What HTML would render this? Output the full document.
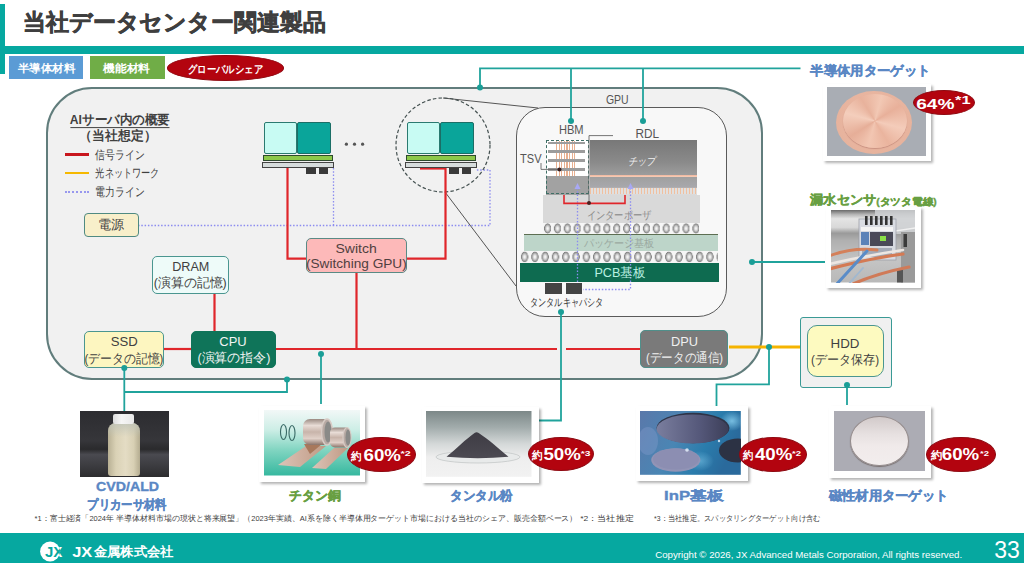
<!DOCTYPE html>
<html lang="ja"><head><meta charset="utf-8"><title>当社データセンター関連製品</title>
<style>
*{margin:0;padding:0;box-sizing:border-box}
html,body{width:1024px;height:563px;overflow:hidden;background:#fff}
body{position:relative;font-family:"Liberation Sans",sans-serif;color:#404040}
.a{position:absolute}
.box{position:absolute;border:1.5px solid #4a9690;border-radius:5px}
.frame{position:absolute;background:#fff;box-shadow:1.5px 2px 2.5px rgba(0,0,0,.3)}
.ph{position:absolute;overflow:hidden}
.pct{position:absolute;background:#b3040f;border:1px solid #8e0a12;border-radius:50%}
svg text{font-family:"Liberation Sans",sans-serif}
</style></head><body>


<!-- header -->
<div class="a" style="left:0;top:4px;width:5px;height:70px;background:#06a8a0"></div>
<div class="a" style="left:0;top:45.8px;width:1024px;height:8px;background:#06a8a0"></div>

<!-- tags -->
<div class="a" style="left:9.2px;top:56.2px;width:74.3px;height:23.1px;background:#5b9bd5"></div>
<div class="a" style="left:89.9px;top:56.2px;width:75.1px;height:23.1px;background:#70ad47"></div>
<div class="a" style="left:167px;top:55.3px;width:117px;height:25.7px;background:#b3040f;border:1px solid #8e0a12;border-radius:50%"></div>

<!-- big rect -->
<div class="a" style="left:46px;top:86.8px;width:716.5px;height:293px;border:2px solid #617d7c;border-radius:46px;background:#f1f1f1"></div>
<!-- GPU rect -->
<div class="a" style="left:515.6px;top:106.8px;width:211px;height:210.5px;border:1.8px solid #5a5a5a;border-radius:29px;background:#f8f8f8"></div>


<!-- legend -->
<div class="a" style="left:65px;top:153px;width:24px;height:2.5px;background:#c8161d"></div>
<div class="a" style="left:65px;top:171.5px;width:24px;height:2.5px;background:#f5b800"></div>
<div class="a" style="left:65px;top:190.5px;width:24px;height:0;border-top:2px dotted #9898ee"></div>

<svg class="a" style="left:0;top:0" width="1024" height="563" viewBox="0 0 1024 563">
 <g fill="none" stroke="#8c8cf0" stroke-width="1.3" stroke-dasharray="1.5 1.8">
  <path d="M138,225.5 H490 V170 H476"/>
  <path d="M333.5,168 V225.5"/>
 </g>
 <g fill="#555"><circle cx="346.4" cy="144.2" r="1.6"/><circle cx="354.5" cy="144.2" r="1.6"/><circle cx="362.6" cy="144.2" r="1.6"/></g>
 <path d="M70.4,127.6 H169.5" stroke="#404040" stroke-width="1"/>
 <g fill="none" stroke="#555" stroke-width="1">
  <path d="M443,98 L538,108"/>
  <path d="M445,192 L516,286"/>
 </g>
 <circle cx="443" cy="145" r="47" fill="none" stroke="#445050" stroke-width="1.2" stroke-dasharray="3.5 2.2"/>
 <g fill="none" stroke="#e0262b" stroke-width="2.2">
  <path d="M287.5,168 V258.6 H306"/>
  <path d="M445.5,168 V258.6 H406.6"/>
  <path d="M420,168.5 H445.5"/>
  <path d="M356.5,273 V349"/>
  <path d="M214.5,293.6 V331.4"/>
  <path d="M164,349 H191"/>
  <path d="M276,349 H557"/>
  <path d="M566,349 H640.6"/>
 </g>
 <path d="M729,347 H800" stroke="#f5b400" stroke-width="3" fill="none"/>
 <g fill="none" stroke="#20a39c" stroke-width="1.8">
  <path d="M480,87.5 V68.4 H800.5"/>
  <path d="M571,68.4 V121"/>
  <path d="M643,68.4 V121"/>
  <path d="M561,312 V420.5 H538.5"/>
  <path d="M752,262 H825"/>
  <path d="M124.3,368 V411"/>
  <path d="M124.3,392 H287 V379"/>
  <path d="M321,354 V404"/>
  <path d="M769,347 V384.3 H716.5 V406"/>
  <path d="M847,385 V405"/>
 </g>
</svg>

<!-- servers -->
<div class="a" style="left:264px;top:122px;width:33px;height:32px;background:#c8fbf3;border:1px solid #2a7a70;border-radius:2px"></div>
<div class="a" style="left:297px;top:122px;width:34px;height:32px;background:#0aa59a;border:1px solid #1b6e66;border-radius:2px"></div>
<div class="a" style="left:262.5px;top:154.8px;width:70px;height:6px;background:#8cc84a;border:1px solid #2d4a2d"></div>
<div class="a" style="left:262px;top:161.5px;width:71.5px;height:6.3px;background:#d6dcdc;border:1px solid #444"></div>
<div class="a" style="left:306.3px;top:167.8px;width:9.3px;height:5.8px;background:#3a3a3a"></div>
<div class="a" style="left:318.7px;top:167.8px;width:9px;height:5.8px;background:#3a3a3a"></div>

<div class="a" style="left:407px;top:122px;width:33px;height:32px;background:#c8fbf3;border:1px solid #2a7a70;border-radius:2px"></div>
<div class="a" style="left:440px;top:122px;width:34px;height:32px;background:#0aa59a;border:1px solid #1b6e66;border-radius:2px"></div>
<div class="a" style="left:405.5px;top:154.8px;width:70px;height:6px;background:#8cc84a;border:1px solid #2d4a2d"></div>
<div class="a" style="left:405px;top:161.5px;width:71.5px;height:6.3px;background:#d6dcdc;border:1px solid #444"></div>
<div class="a" style="left:449.3px;top:167.8px;width:9.3px;height:5.8px;background:#3a3a3a"></div>
<div class="a" style="left:461.7px;top:167.8px;width:9px;height:5.8px;background:#3a3a3a"></div>

<!-- boxes -->
<div class="box" style="left:83.9px;top:212.8px;width:54.7px;height:23.8px;background:#f8efca;border-width:1.5px;border-color:#4f8a82;border-radius:4px"></div>
<div class="box" style="left:305.5px;top:238.4px;width:101.1px;height:34.8px;background:#fdb9b9;border-color:#5a8a85;border-width:1.5px"></div>
<div class="box" style="left:152px;top:256px;width:77px;height:38px;background:#eefbf9;padding-top:2.5px"></div>
<div class="box" style="left:84px;top:331px;width:80px;height:37px;background:#fdf6c0;padding-top:2.5px"></div>
<div class="box" style="left:191px;top:331px;width:85px;height:37px;background:#0f7459;border-color:#0f7459;color:#fff;padding-top:2.5px"></div>
<div class="box" style="left:640.4px;top:329.9px;width:87.9px;height:38.1px;background:#7a7a7a;border-color:#4f8f8a;border-width:1.5px"></div>
<div class="a" style="left:800px;top:317px;width:92px;height:70.5px;background:#f0f0f0;border:1.2px solid #3a9a95;border-radius:3px"></div>
<div class="box" style="left:806.7px;top:324.5px;width:77px;height:52.5px;background:#fdfac0;border-radius:10px;padding-top:11px"></div>


<!-- GPU internals -->
<!-- interposer -->
<div class="a" style="left:542.5px;top:195px;width:157.5px;height:28px;background:#d9d9d9"></div>
<!-- chip -->
<div class="a" style="left:589.5px;top:140px;width:107px;height:55px;background:linear-gradient(#787878 0%,#8a8a8a 40%,#9c9c9c 63%,#f2bca4 64.5%,#f6cab4 66.5%,#a0a0a0 68%,#a8a8ac 86%,#d8c8c0 88%,#dcdcdc 100%)"></div>
<div class="a" style="left:589.5px;top:188px;width:107px;height:6px;background:repeating-linear-gradient(90deg,#f0c0a0 0 1px,#e0e0e0 1px 3px)"></div>
<!-- HBM -->
<div class="a" style="left:546px;top:140px;width:42.5px;height:54.5px;background:#fff"></div>
<div class="a" style="left:546px;top:176px;width:42.5px;height:18.5px;background:#a2a2a2"></div>
<div class="a" style="left:556px;top:141px;width:21px;height:35px;background:repeating-linear-gradient(90deg,#e8b090 0 1.2px,transparent 1.2px 2.6px)"></div>
<div class="a" style="left:548.3px;top:141.5px;width:36.7px;height:2.8px;background:#9c9c9c"></div>
<div class="a" style="left:548.3px;top:150px;width:36.7px;height:3px;background:#9c9c9c"></div>
<div class="a" style="left:548.3px;top:158.8px;width:36.7px;height:3px;background:#9c9c9c"></div>
<div class="a" style="left:548.3px;top:167.6px;width:36.7px;height:3px;background:#9c9c9c"></div>
<div class="a" style="left:546px;top:139.8px;width:42.5px;height:54.5px;border:1.3px dashed #3f6f66"></div>
<!-- balls row1 -->
<div class="a" style="left:543px;top:223px;width:156px;height:10.5px;background:radial-gradient(ellipse 3.7px 5.1px at 4.6px 5.2px,#ffffff 0%,#e6e6e6 30%,#b4b4b4 62%,#7e7e7e 88%,rgba(248,248,248,0) 100%) #f6f6f6;background-size:9.9px 10.5px"></div>
<!-- package -->
<div class="a" style="left:524px;top:233.6px;width:193.5px;height:17px;background:#bdd5c9;border-top:1.5px solid #5d6e52"></div>
<!-- balls row2 -->
<div class="a" style="left:519.5px;top:251px;width:198px;height:11.8px;background:radial-gradient(ellipse 3.8px 5.5px at 4.6px 5.8px,#ffffff 0%,#e6e6e6 30%,#b4b4b4 62%,#7e7e7e 88%,rgba(248,248,248,0) 100%) #f6f6f6;background-size:10.3px 11.8px"></div>
<!-- PCB -->
<div class="a" style="left:520.4px;top:262.9px;width:199px;height:19.6px;background:#0e6b50"></div>
<div class="a" style="left:545px;top:282.5px;width:17px;height:11.5px;background:#444"></div>
<div class="a" style="left:565.7px;top:282.5px;width:16.5px;height:11.5px;background:#444"></div>
<svg class="a" style="left:0;top:0" width="1024" height="563" viewBox="0 0 1024 563">
 <g fill="none" stroke="#8c8cf0" stroke-width="1.3" stroke-dasharray="1.5 1.8">
  <path d="M577.5,188 V282.5"/>
  <path d="M630.5,188 V289.5 H583"/>
 </g>
 <g fill="#a8a8f4">
  <path d="M574.5,189 L577.5,183 L580.5,189 Z"/>
  <path d="M627.5,189 L630.5,183 L633.5,189 Z"/>
 </g>
 <path d="M564,195 V203.4 H625 V195" fill="none" stroke="#e0262b" stroke-width="1.6"/>
 <path d="M589,203 V135.6 H613" fill="none" stroke="#666" stroke-width="0.9"/>
 <path d="M541,163 V169.4 H559.5" fill="none" stroke="#666" stroke-width="0.9"/>
 <circle cx="589" cy="203" r="2" fill="#4a2020"/>
 <circle cx="559.5" cy="169.4" r="2" fill="#3a2020"/>
</svg>


<!-- right products -->
<div class="frame" style="left:823px;top:84px;width:108px;height:77px"></div>
<div class="ph" style="left:827px;top:87px;width:99px;height:69.3px;background:#a9adb4">
  <div class="a" style="left:9.3px;top:4px;width:76px;height:63.3px;border-radius:50%;background:radial-gradient(ellipse at 50% 45%,#ecbaa6 0%,#e6b29c 80%,#d49c86 92%,#e8bca8 100%)"></div>
  <div class="a" style="left:16px;top:6.7px;width:64px;height:54px;border-radius:50%;box-shadow:0 1px 1px #c89080;background:conic-gradient(from 15deg at 50% 50%,#f2c8b4,#e8b09a 12%,#f4ccba 25%,#eab49e 37%,#f2c6b2 50%,#e6ae98 62%,#f4cebc 75%,#e8b29c 87%,#f2c8b4)"></div>
</div>
<div class="pct" style="left:913px;top:90px;width:61.5px;height:25px"></div>

<div class="frame" style="left:826px;top:206.5px;width:95px;height:81px"></div>
<svg class="a" style="left:830.7px;top:210.3px" width="84.2" height="72.5" viewBox="0 0 84.2 72.5">
 <defs><linearGradient id="sg" x1="0" y1="0" x2="0" y2="1">
  <stop offset="0" stop-color="#6a6a6a"/><stop offset=".06" stop-color="#b4b4b4"/><stop offset=".12" stop-color="#e4e4e4"/><stop offset=".24" stop-color="#d8d8d8"/><stop offset=".32" stop-color="#9a9a9a"/><stop offset=".42" stop-color="#b0b0b0"/><stop offset=".7" stop-color="#c4c4c4"/><stop offset="1" stop-color="#b8b8b8"/></linearGradient></defs>
 <rect width="84.2" height="72.5" fill="url(#sg)"/>
 <rect x="44" y="0" width="40.2" height="24" fill="#cfd1d4" opacity=".85"/>
 <path d="M44,24 L84.2,18" stroke="#f0f0f0" stroke-width="1.5"/>
 <rect x="70" y="22" width="14.2" height="50.5" fill="#9a9a9a"/>
 <rect x="72.5" y="24" width="3.5" height="13" fill="#3a3a3a"/>
 <rect x="66" y="60" width="6" height="12.5" fill="#555"/>
 <rect x="28" y="9" width="37" height="41" fill="#dadde4" stroke="#9a9ea8" stroke-width=".8" opacity=".92"/>
 <g fill="#333"><rect x="34" y="6" width="2.6" height="9"/><rect x="39" y="6" width="2.6" height="9"/><rect x="44" y="6" width="2.6" height="9"/><rect x="49" y="6" width="2.6" height="9"/><rect x="54" y="6" width="2.6" height="9"/><rect x="59" y="6" width="2.6" height="9"/></g>
 <rect x="30" y="17" width="32" height="4" fill="#f4f4f4"/>
 <rect x="30" y="22" width="8" height="13" fill="#5a82b8"/>
 <rect x="39" y="22" width="23" height="14" fill="#4a4a58"/>
 <rect x="49" y="26" width="6" height="5" fill="#8ae048"/>
 <rect x="31" y="38" width="30" height="9" fill="#a4aab6"/>
 <g fill="none" stroke-linecap="round">
  <path d="M-2,46 C14,40 30,38 46,40" stroke="#d4805a" stroke-width="3"/>
  <path d="M-2,54 C20,49 45,44 72,40" stroke="#ece6e2" stroke-width="2.6"/>
  <path d="M-2,59 C22,53 48,47 72,44" stroke="#d47a54" stroke-width="3.2"/>
  <path d="M22,74 C40,66 58,61 78,57" stroke="#d07a58" stroke-width="3.2"/>
  <path d="M4,76 L36,41" stroke="#5a8cc8" stroke-width="3"/>
  <path d="M16,76 L32,58" stroke="#a0b8d0" stroke-width="1.8"/>
 </g>
</svg>

<!-- bottom products -->
<div class="ph" style="left:79.6px;top:411px;width:89.4px;height:66px;background:linear-gradient(180deg,#2c2c30 0%,#36363a 45%,#2a2a2c 58%,#4a4a50 66%,#3a3a3e 85%,#2c2c2e 100%)">
  <div class="a" style="left:28.2px;top:11.5px;width:32px;height:53px;border-radius:8px 8px 3px 3px;background:linear-gradient(90deg,#b8b094,#dad2b6 25%,#e4dcc4 55%,#d8d0b4 80%,#b4ac90)"></div><div class="a" style="left:28.2px;top:11.5px;width:32px;height:14px;border-radius:8px 8px 0 0;background:linear-gradient(rgba(190,195,185,.8),rgba(210,206,186,0))"></div>
  <div class="a" style="left:33.3px;top:2.8px;width:21.2px;height:10px;border-radius:2px;background:linear-gradient(90deg,#dcdcdc,#f6f6f6 40%,#e8e8e8)"></div>
</div>

<div class="frame" style="left:259.2px;top:406.2px;width:106px;height:75.6px"></div>
<svg class="a" style="left:263.9px;top:410.3px" width="96" height="65.5" viewBox="0 0 96 65.5">
 <defs>
  <linearGradient id="tg" x1="0" y1="0" x2="0" y2="1"><stop offset="0" stop-color="#f2f8f7"/><stop offset=".3" stop-color="#cdeee6"/><stop offset=".62" stop-color="#7fd4c0"/><stop offset="1" stop-color="#36b89f"/></linearGradient>
  <linearGradient id="rg" x1="0" y1="0" x2="0" y2="1"><stop offset="0" stop-color="#9a8a82"/><stop offset=".25" stop-color="#e8dcd6"/><stop offset=".5" stop-color="#c8b4aa"/><stop offset=".75" stop-color="#e0d0c8"/><stop offset="1" stop-color="#8a7268"/></linearGradient>
  <linearGradient id="sg2" x1="0" y1="0" x2="1" y2="0"><stop offset="0" stop-color="#dcc4b8"/><stop offset="1" stop-color="#c09a84"/></linearGradient>
 </defs>
 <rect width="96" height="65.5" fill="url(#tg)"/>
 <path d="M14,55 L42,36 L62,36 L36,57 Z" fill="url(#sg2)"/>
 <path d="M48,58 L70,38 L84,38 L62,59 Z" fill="url(#sg2)"/>
 <path d="M40,34 L58,34 L46,44 Z" fill="#a8785c"/>
 <rect x="39" y="9" width="28" height="26" rx="7" fill="url(#rg)"/>
 <ellipse cx="63" cy="22" rx="5.5" ry="13" fill="#b8aaa4" stroke="#d8ccc6" stroke-width="1.5"/>
 <ellipse cx="64" cy="22" rx="3.5" ry="10.5" fill="#8a8a88"/>
 <rect x="66" y="17.5" width="20" height="20" rx="5" fill="url(#rg)"/>
 <ellipse cx="83" cy="27.5" rx="4" ry="10" fill="#b8aaa4" stroke="#d8ccc6" stroke-width="1.2"/>
 <ellipse cx="84" cy="27.5" rx="2.5" ry="8" fill="#8a8a88"/>
 <ellipse cx="19.5" cy="22" rx="3" ry="7.5" fill="none" stroke="#3a6a66" stroke-width="1.1"/>
 <ellipse cx="28" cy="23" rx="3" ry="7.5" fill="none" stroke="#3a6a66" stroke-width="1.1"/>
</svg>
<div class="pct" style="left:347px;top:436.9px;width:68.5px;height:34.7px"></div>

<div class="frame" style="left:422px;top:407.3px;width:116.5px;height:75.5px"></div>
<svg class="a" style="left:426.2px;top:411.3px" width="105.5" height="65.8" viewBox="0 0 105.5 65.8">
 <defs><linearGradient id="tag2" x1="0" y1="0" x2="0" y2="1"><stop offset="0" stop-color="#7c8888"/><stop offset=".25" stop-color="#a2acac"/><stop offset=".5" stop-color="#d4d8d8"/><stop offset=".7" stop-color="#eeeeee"/><stop offset="1" stop-color="#f2f2f2"/></linearGradient>
 <linearGradient id="cone" x1="0" y1="0" x2="0" y2="1"><stop offset="0" stop-color="#3e3c44"/><stop offset="1" stop-color="#4c4a52"/></linearGradient></defs>
 <rect width="105.5" height="65.8" fill="url(#tag2)"/>
 <ellipse cx="52" cy="46" rx="42" ry="6" fill="#e8eaea" stroke="#c4c8c8" stroke-width=".8"/>
 <path d="M20.5,45.8 C30,38 40,28 48.5,22 Q50.6,20.6 52.7,22 C62,28 72,37 82.5,45.8 Q52,48.5 20.5,45.8 Z" fill="url(#cone)"/>
</svg>
<div class="pct" style="left:527.5px;top:437.1px;width:66.8px;height:34.3px"></div>

<div class="frame" style="left:636.2px;top:406.2px;width:111.4px;height:74.6px"></div>
<svg class="a" style="left:640.2px;top:411px" width="100.8" height="63.8" viewBox="0 0 100.8 63.8">
 <defs>
  <linearGradient id="ib" x1="0" y1="0" x2="1" y2="0.3"><stop offset="0" stop-color="#5a78aa"/><stop offset=".45" stop-color="#4a86b4"/><stop offset=".75" stop-color="#2a7cac"/><stop offset="1" stop-color="#2a6a9c"/></linearGradient>
  <linearGradient id="w1" x1="0" y1="0" x2="1" y2="0"><stop offset="0" stop-color="#7a7e9e"/><stop offset=".6" stop-color="#55587a"/><stop offset="1" stop-color="#3c3e58"/></linearGradient>
  <radialGradient id="sp" cx=".5" cy=".5" r=".5"><stop offset="0" stop-color="#8ad0f0" stop-opacity=".8"/><stop offset="1" stop-color="#8ad0f0" stop-opacity="0"/></radialGradient>
 </defs>
 <rect width="100.8" height="63.8" fill="url(#ib)"/>
 <ellipse cx="92" cy="10" rx="12" ry="10" fill="url(#sp)"/>
 <ellipse cx="60" cy="50" rx="14" ry="10" fill="url(#sp)" opacity=".6"/>
 <ellipse cx="8" cy="30" rx="10" ry="14" fill="#8aa0d0" opacity=".35"/>
 <ellipse cx="53" cy="17" rx="36.5" ry="15.2" fill="#2e3448"/>
 <ellipse cx="52.5" cy="18" rx="36" ry="14.5" fill="url(#w1)"/>
 <ellipse cx="35.8" cy="49" rx="24.6" ry="11.7" fill="#9294b6"/>
 <ellipse cx="36" cy="48" rx="23" ry="10.5" fill="#8c8eb2"/>
 <ellipse cx="98" cy="39.5" rx="19" ry="12" fill="#2c3244"/>
 <circle cx="47" cy="39" r="1.8" fill="#e8f4ff" opacity=".8"/>
 <circle cx="79" cy="30" r="1.2" fill="#e8f4ff" opacity=".8"/>
</svg>
<div class="pct" style="left:738.5px;top:436.9px;width:68.5px;height:34.7px"></div>

<div class="frame" style="left:829.2px;top:406.2px;width:102.1px;height:71.5px"></div>
<div class="ph" style="left:833.6px;top:411px;width:91.2px;height:60.4px;background:#acacb4">
  <div class="a" style="left:16px;top:4.6px;width:59px;height:50.7px;border-radius:50%;border:1.2px solid #958c8c;box-shadow:0 1px 1px #7a7272;background:linear-gradient(#d2caca 0%,#e6e0e0 35%,#f0eaea 60%,#f2eded 100%)"></div>
</div>
<div class="pct" style="left:926.2px;top:436.9px;width:69.5px;height:34.7px"></div>

<svg class="a" style="left:0;top:0" width="1024" height="563" viewBox="0 0 1024 563">
 <g fill="#1a9e97">
  <circle cx="480" cy="87.5" r="3"/>
  <circle cx="571" cy="121" r="3"/>
  <circle cx="643" cy="121" r="3"/>
  <circle cx="561" cy="312" r="3"/>
  <circle cx="752" cy="262" r="3"/>
  <circle cx="124.3" cy="368" r="3"/>
  <circle cx="287" cy="379.4" r="3"/>
  <circle cx="321" cy="354" r="3"/>
  <circle cx="769" cy="347" r="3"/>
  <circle cx="847" cy="385" r="3"/>
 </g>
</svg>
<!-- footnotes -->

<!-- footer -->
<div class="a" style="left:0;top:533px;width:1024px;height:30px;background:#06a8a0"></div>
<svg class="a" style="left:0;top:530px" width="80" height="33" viewBox="0 530 80 33">
 <defs><clipPath id="cc"><circle cx="50.1" cy="551.5" r="10"/></clipPath></defs>
 <circle cx="50.1" cy="551.5" r="10" fill="#fff"/>
 <text x="52.3" y="557" font-family="Liberation Sans" font-weight="bold" font-size="15" fill="#fff">X</text>
 <g clip-path="url(#cc)"><text x="45" y="557" font-family="Liberation Sans" font-weight="bold" font-size="15" fill="#06a8a0">JX</text></g>
</svg>


<svg class="a" style="left:0;top:0" width="1024" height="563" viewBox="0 0 1024 563">
<text x="22.7" y="22.1" font-size="23" font-weight="bold" fill="#3f3f3f" dominant-baseline="central" textLength="303.5" lengthAdjust="spacingAndGlyphs" stroke="#3f3f3f" stroke-width="0.6">当社データセンター関連製品</text>
<text x="17.8" y="68.4" font-size="11" font-weight="bold" fill="#fff" dominant-baseline="central" textLength="57.3" lengthAdjust="spacingAndGlyphs" >半導体材料</text>
<text x="103.2" y="68.4" font-size="11" font-weight="bold" fill="#fff" dominant-baseline="central" textLength="47.0" lengthAdjust="spacingAndGlyphs" >機能材料</text>
<text x="188.1" y="68.8" font-size="11" font-weight="bold" fill="#fff" dominant-baseline="central" textLength="74.8" lengthAdjust="spacingAndGlyphs" >グローバルシェア</text>
<text x="69.8" y="120.0" font-size="12.5" font-weight="bold" fill="#404040" dominant-baseline="central" textLength="100.3" lengthAdjust="spacingAndGlyphs" >AIサーバ内の概要</text>
<text x="79.4" y="136.0" font-size="12.5" font-weight="bold" fill="#404040" dominant-baseline="central" textLength="77.2" lengthAdjust="spacingAndGlyphs" >（当社想定）</text>
<text x="95.4" y="154.5" font-size="11.5" fill="#404040" dominant-baseline="central" textLength="49.1" lengthAdjust="spacingAndGlyphs" >信号ライン</text>
<text x="95.4" y="173.0" font-size="11.5" fill="#404040" dominant-baseline="central" textLength="64.2" lengthAdjust="spacingAndGlyphs" >光ネットワーク</text>
<text x="95.4" y="191.5" font-size="11.5" fill="#404040" dominant-baseline="central" textLength="49.1" lengthAdjust="spacingAndGlyphs" >電力ライン</text>
<text x="98.0" y="224.8" font-size="12.5" fill="#404040" dominant-baseline="central" textLength="26.2" lengthAdjust="spacingAndGlyphs" >電源</text>
<text x="335.5" y="248.6" font-size="12.7" fill="#504040" dominant-baseline="central" textLength="41.2" lengthAdjust="spacingAndGlyphs" >Switch</text>
<text x="306.0" y="263.9" font-size="12.7" fill="#504040" dominant-baseline="central" textLength="100.7" lengthAdjust="spacingAndGlyphs" >(Switching GPU)</text>
<text x="172.2" y="267.0" font-size="12.5" fill="#404040" dominant-baseline="central" textLength="37.2" lengthAdjust="spacingAndGlyphs" >DRAM</text>
<text x="153.8" y="283.0" font-size="12.5" fill="#404040" dominant-baseline="central" textLength="72.8" lengthAdjust="spacingAndGlyphs" >(演算の記憶)</text>
<text x="110.7" y="342.3" font-size="12.5" fill="#404040" dominant-baseline="central" textLength="27.0" lengthAdjust="spacingAndGlyphs" >SSD</text>
<text x="84.4" y="358.6" font-size="12.5" fill="#404040" dominant-baseline="central" textLength="78.8" lengthAdjust="spacingAndGlyphs" >(データの記憶)</text>
<text x="219.3" y="342.4" font-size="12.5" fill="#f4f4f4" dominant-baseline="central" textLength="27.3" lengthAdjust="spacingAndGlyphs" >CPU</text>
<text x="197.4" y="358.4" font-size="12.5" fill="#f4f4f4" dominant-baseline="central" textLength="73.1" lengthAdjust="spacingAndGlyphs" >(演算の指令)</text>
<text x="671.0" y="342.0" font-size="12.5" fill="#f0f0f0" dominant-baseline="central" textLength="27.1" lengthAdjust="spacingAndGlyphs" >DPU</text>
<text x="646.1" y="357.5" font-size="12.5" fill="#f0f0f0" dominant-baseline="central" textLength="76.9" lengthAdjust="spacingAndGlyphs" >(データの通信)</text>
<text x="830.6" y="344.3" font-size="12.5" fill="#404040" dominant-baseline="central" textLength="28.9" lengthAdjust="spacingAndGlyphs" >HDD</text>
<text x="811.0" y="359.7" font-size="12.5" fill="#404040" dominant-baseline="central" textLength="68.1" lengthAdjust="spacingAndGlyphs" >(データ保存)</text>
<text x="605.9" y="100.0" font-size="12" fill="#555" dominant-baseline="central" textLength="22.7" lengthAdjust="spacingAndGlyphs" >GPU</text>
<text x="558.9" y="129.5" font-size="12" fill="#555" dominant-baseline="central" textLength="24.7" lengthAdjust="spacingAndGlyphs" >HBM</text>
<text x="635.4" y="134.2" font-size="12" fill="#555" dominant-baseline="central" textLength="23.6" lengthAdjust="spacingAndGlyphs" >RDL</text>
<text x="520.1" y="159.0" font-size="12" fill="#555" dominant-baseline="central" textLength="21.5" lengthAdjust="spacingAndGlyphs" >TSV</text>
<text x="627.5" y="161.0" font-size="11" fill="#f0f0f0" dominant-baseline="central" textLength="27.5" lengthAdjust="spacingAndGlyphs" font-style="italic">チップ</text>
<text x="586.5" y="214.5" font-size="11" fill="#8a8a8a" dominant-baseline="central" textLength="65.1" lengthAdjust="spacingAndGlyphs" >インターポーザ</text>
<text x="583.5" y="243.0" font-size="11" fill="#9aa8a0" dominant-baseline="central" textLength="70.6" lengthAdjust="spacingAndGlyphs" >パッケージ基板</text>
<text x="594.4" y="272.0" font-size="13" fill="#b8f0e0" dominant-baseline="central" textLength="51.1" lengthAdjust="spacingAndGlyphs" >PCB基板</text>
<text x="530.0" y="302.0" font-size="10.5" fill="#333" dominant-baseline="central" textLength="73.3" lengthAdjust="spacingAndGlyphs" >タンタルキャパシタ</text>
<text x="810.4" y="70.7" font-size="13" font-weight="bold" fill="#5a87c4" dominant-baseline="central" textLength="120.0" lengthAdjust="spacingAndGlyphs" stroke="#5a87c4" stroke-width="0.35">半導体用ターゲット</text>
<text x="916.2" y="103.0" font-size="15.5" font-weight="bold" fill="#fff" dominant-baseline="central" textLength="38.3" lengthAdjust="spacingAndGlyphs" >64%</text>
<text x="955.0" y="100.8" font-size="10" font-weight="bold" fill="#fff" dominant-baseline="central" textLength="15.5" lengthAdjust="spacingAndGlyphs" >*1</text>
<text x="810.0" y="199.0" font-size="13" font-weight="bold" fill="#689f42" dominant-baseline="central" textLength="66.3" lengthAdjust="spacingAndGlyphs" stroke="#689f42" stroke-width="0.35">漏水センサ</text>
<text x="876.2" y="201.0" font-size="9.5" font-weight="bold" fill="#689f42" dominant-baseline="central" textLength="60.5" lengthAdjust="spacingAndGlyphs" stroke="#689f42" stroke-width="0.35">(タツタ電線)</text>
<text x="96.0" y="486.6" font-size="13" font-weight="bold" fill="#5a87c4" dominant-baseline="central" textLength="63.1" lengthAdjust="spacingAndGlyphs" stroke="#5a87c4" stroke-width="0.35">CVD/ALD</text>
<text x="87.4" y="505.0" font-size="12.5" font-weight="bold" fill="#5a87c4" dominant-baseline="central" textLength="79.2" lengthAdjust="spacingAndGlyphs" stroke="#5a87c4" stroke-width="0.35">プリカーサ材料</text>
<text x="289.2" y="495.5" font-size="13" font-weight="bold" fill="#689f42" dominant-baseline="central" textLength="51.5" lengthAdjust="spacingAndGlyphs" stroke="#689f42" stroke-width="0.35">チタン銅</text>
<text x="450.1" y="495.2" font-size="13" font-weight="bold" fill="#5a87c4" dominant-baseline="central" textLength="62.6" lengthAdjust="spacingAndGlyphs" stroke="#5a87c4" stroke-width="0.35">タンタル粉</text>
<text x="664.1" y="495.5" font-size="13" font-weight="bold" fill="#5a87c4" dominant-baseline="central" textLength="59.5" lengthAdjust="spacingAndGlyphs" stroke="#5a87c4" stroke-width="0.35">InP基板</text>
<text x="828.6" y="495.2" font-size="13" font-weight="bold" fill="#5a87c4" dominant-baseline="central" textLength="119.8" lengthAdjust="spacingAndGlyphs" stroke="#5a87c4" stroke-width="0.35">磁性材用ターゲット</text>
<text x="351.4" y="455.6" font-size="11" font-weight="bold" fill="#fff" dominant-baseline="central" textLength="10.5" lengthAdjust="spacingAndGlyphs" >約</text>
<text x="363.5" y="455.0" font-size="17" font-weight="bold" fill="#fff" dominant-baseline="central" textLength="37.5" lengthAdjust="spacingAndGlyphs" >60%</text>
<text x="400.6" y="453.5" font-size="8" font-weight="bold" fill="#fff" dominant-baseline="central" textLength="10.2" lengthAdjust="spacingAndGlyphs" >*2</text>
<text x="532.0" y="455.2" font-size="11" font-weight="bold" fill="#fff" dominant-baseline="central" textLength="10.6" lengthAdjust="spacingAndGlyphs" >約</text>
<text x="543.4" y="454.6" font-size="17" font-weight="bold" fill="#fff" dominant-baseline="central" textLength="37.5" lengthAdjust="spacingAndGlyphs" >50%</text>
<text x="580.7" y="453.1" font-size="8" font-weight="bold" fill="#fff" dominant-baseline="central" textLength="9.7" lengthAdjust="spacingAndGlyphs" >*3</text>
<text x="743.0" y="455.2" font-size="11" font-weight="bold" fill="#fff" dominant-baseline="central" textLength="10.3" lengthAdjust="spacingAndGlyphs" >約</text>
<text x="754.9" y="454.6" font-size="17" font-weight="bold" fill="#fff" dominant-baseline="central" textLength="37.5" lengthAdjust="spacingAndGlyphs" >40%</text>
<text x="792.1" y="453.1" font-size="8" font-weight="bold" fill="#fff" dominant-baseline="central" textLength="9.0" lengthAdjust="spacingAndGlyphs" >*2</text>
<text x="930.8" y="455.2" font-size="11" font-weight="bold" fill="#fff" dominant-baseline="central" textLength="11.3" lengthAdjust="spacingAndGlyphs" >約</text>
<text x="941.8" y="454.6" font-size="17" font-weight="bold" fill="#fff" dominant-baseline="central" textLength="37.4" lengthAdjust="spacingAndGlyphs" >60%</text>
<text x="980.0" y="453.1" font-size="8" font-weight="bold" fill="#fff" dominant-baseline="central" textLength="8.9" lengthAdjust="spacingAndGlyphs" >*2</text>
<text x="34.6" y="518.8" font-size="7.5" fill="#404040" dominant-baseline="central" textLength="542.8" lengthAdjust="spacingAndGlyphs" >*1：富士経済「2024年 半導体材料市場の現状と将来展望」（2023年実績、AI系を除く半導体用ターゲット市場における当社のシェア、販売金額ベース）</text>
<text x="580.2" y="518.8" font-size="7.5" fill="#404040" dominant-baseline="central" textLength="53.5" lengthAdjust="spacingAndGlyphs" >*2：当社推定</text>
<text x="654.1" y="518.8" font-size="7.5" fill="#404040" dominant-baseline="central" textLength="166.2" lengthAdjust="spacingAndGlyphs" >*3：当社推定。スパッタリングターゲット向け含む</text>
<text x="72.2" y="551.5" font-size="14.5" font-weight="bold" fill="#fff" dominant-baseline="central" textLength="20.1" lengthAdjust="spacingAndGlyphs" >JX</text>
<text x="93.9" y="551.5" font-size="13" font-weight="bold" fill="#fff" dominant-baseline="central" textLength="79.8" lengthAdjust="spacingAndGlyphs" >金属株式会社</text>
<text x="655.2" y="554.4" font-size="9.6" fill="#fff" dominant-baseline="central" textLength="307.0" lengthAdjust="spacingAndGlyphs" >Copyright © 2026, JX Advanced Metals Corporation, All rights reserved.</text>
<text x="994.3" y="549.5" font-size="24" fill="#fff" dominant-baseline="central" textLength="25.6" lengthAdjust="spacingAndGlyphs" >33</text>
</svg>
</body></html>
